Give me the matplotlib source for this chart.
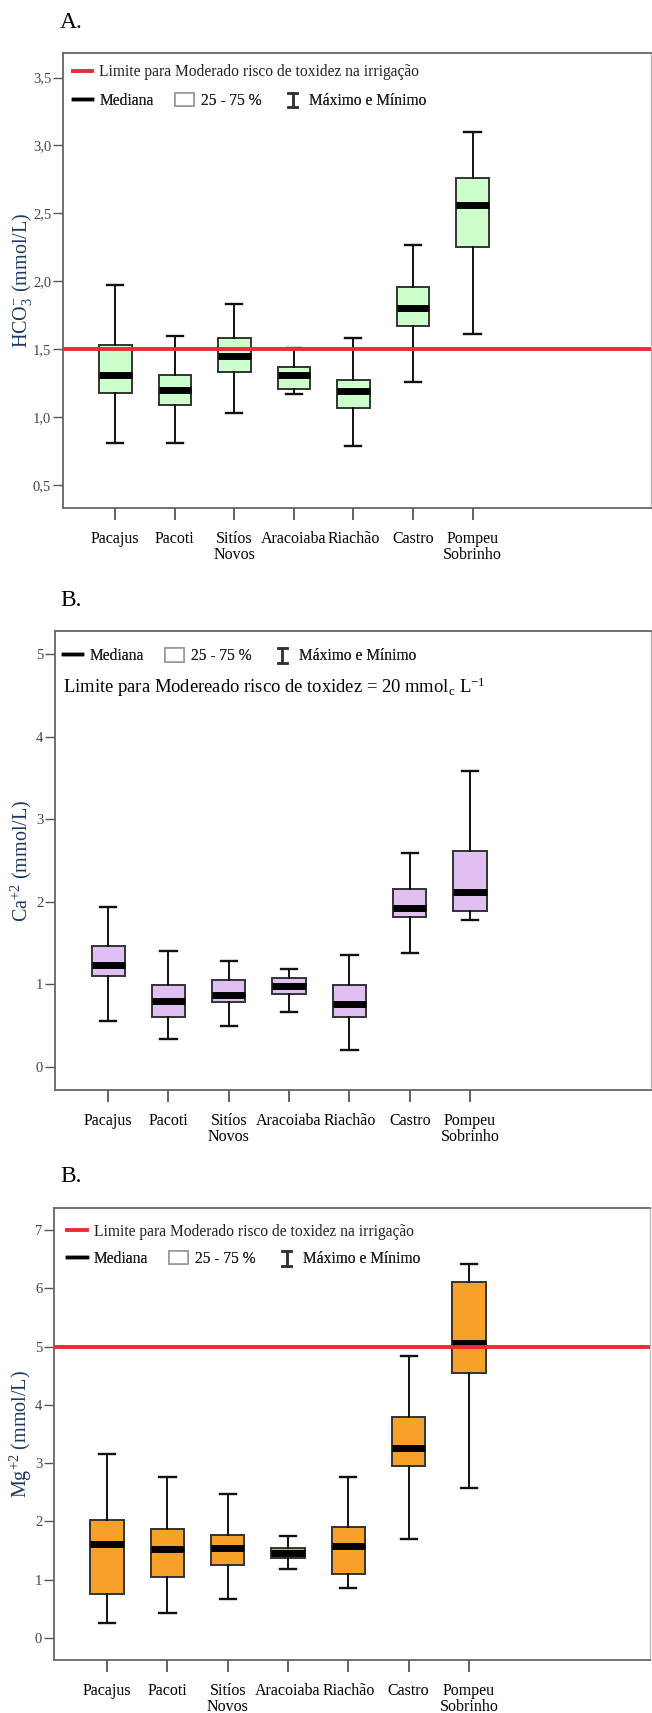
import matplotlib
matplotlib.use("Agg")
import matplotlib.pyplot as plt
from matplotlib.lines import Line2D
from matplotlib.patches import Patch
from matplotlib.legend_handler import HandlerBase
from matplotlib.ticker import FuncFormatter

plt.rcParams["font.family"] = ["Liberation Serif", "DejaVu Serif"]
plt.rcParams["mathtext.fontset"] = "custom"
plt.rcParams["mathtext.rm"] = "Liberation Serif"
plt.rcParams["mathtext.it"] = "Liberation Serif:italic"

sites = ["Pacajus", "Pacoti", "Sitíos\nNovos", "Aracoiaba", "Riachão", "Castro", "Pompeu\nSobrinho"]

# HCO3 (mmol/L)
hco3_min = [0.81, 0.81, 1.03, 1.17, 0.79, 1.26, 1.61]
hco3_q1 = [1.18, 1.09, 1.33, 1.21, 1.07, 1.67, 2.25]
hco3_med = [1.31, 1.20, 1.45, 1.31, 1.19, 1.80, 2.56]
hco3_q3 = [1.53, 1.31, 1.58, 1.37, 1.27, 1.96, 2.76]
hco3_max = [1.97, 1.60, 1.83, 1.51, 1.58, 2.27, 3.10]
hco3_limit = 1.5

# Ca+2 (mmol/L)
ca_min = [0.55, 0.34, 0.50, 0.67, 0.20, 1.38, 1.78]
ca_q1 = [1.10, 0.60, 0.79, 0.88, 0.60, 1.81, 1.89]
ca_med = [1.23, 0.80, 0.87, 0.98, 0.76, 1.93, 2.12]
ca_q3 = [1.46, 0.99, 1.05, 1.08, 0.99, 2.16, 2.61]
ca_max = [1.94, 1.40, 1.28, 1.19, 1.35, 2.59, 3.58]

# Mg+2 (mmol/L)
mg_min = [0.26, 0.43, 0.67, 1.19, 0.86, 1.70, 2.58]
mg_q1 = [0.76, 1.05, 1.25, 1.37, 1.10, 2.95, 4.55]
mg_med = [1.61, 1.53, 1.55, 1.46, 1.57, 3.26, 5.07]
mg_q3 = [2.03, 1.87, 1.77, 1.55, 1.91, 3.79, 6.11]
mg_max = [3.15, 2.76, 2.47, 1.75, 2.77, 4.84, 6.42]
mg_limit = 5.0

RED = "#EE2B36"
LABEL_BLUE = "#1F3864"


class HandlerIBeam(HandlerBase):
    """Legend handle drawn as an I-beam (max/min whisker symbol)."""

    def create_artists(self, legend, orig_handle, xdescent, ydescent, width, height, fontsize, trans):
        cx = width / 2 - xdescent
        y0 = -ydescent - 0.1 * height
        y1 = -ydescent + 1.0 * height
        w2 = 0.22 * width
        kw = dict(color="#333333", lw=1.8, transform=trans)
        return [
            Line2D([cx, cx], [y0, y1], **kw),
            Line2D([cx - w2, cx + w2], [y0, y0], **kw),
            Line2D([cx - w2, cx + w2], [y1, y1], **kw),
        ]


def draw_panel(ax, lo, q1, med, q3, hi, color, ylim, yticks, ylabel, label_x, limit=None, fmt=None):
    stats = [
        dict(whislo=a, q1=b, med=c, q3=d, whishi=e, fliers=[])
        for a, b, c, d, e in zip(lo, q1, med, q3, hi)
    ]
    pos = list(range(1, len(stats) + 1))
    ax.bxp(
        stats,
        positions=pos,
        widths=0.55,
        capwidths=0.27,
        patch_artist=True,
        showfliers=False,
        boxprops=dict(facecolor=color, edgecolor="#333333", linewidth=1.4),
        medianprops=dict(color="black", linewidth=5, solid_capstyle="butt"),
        whiskerprops=dict(color="#111111", linewidth=1.4),
        capprops=dict(color="#111111", linewidth=1.7),
    )
    if limit is not None:
        ax.axhline(limit, color=RED, linewidth=2.8, zorder=5)
    ax.set_xlim(0.12, 10.0)
    ax.set_ylim(*ylim)
    ax.set_yticks(yticks)
    if fmt:
        ax.yaxis.set_major_formatter(FuncFormatter(fmt))
    ax.set_xticks(pos)
    ax.set_xticklabels(sites, fontsize=11.5, linespacing=1.0)
    ax.tick_params(axis="x", length=8.5, width=1.3, color="#555555", pad=8)
    ax.tick_params(axis="y", length=7, width=1.0, color="#555555", pad=1.5,
                   labelsize=10.5, labelcolor="#444444")
    for side in ("left", "bottom", "top"):
        ax.spines[side].set_color("#666666")
        ax.spines[side].set_linewidth(1.3)
    ax.spines["right"].set_color("#BBBBBB")
    ax.spines["right"].set_linewidth(1.0)
    ax.set_ylabel(ylabel, fontsize=14.5, color=LABEL_BLUE)
    ax.yaxis.set_label_coords(label_x, 0.5)


def legend_rows(ax, x, y_row1, y_row2, with_limit=True):
    kw = dict(frameon=False, fontsize=11.2, handlelength=1.25, handletextpad=0.45,
              borderpad=0, borderaxespad=0, loc="upper left", labelcolor="#222222")
    if with_limit:
        leg1 = ax.legend(handles=[Line2D([], [], color=RED, lw=2.8)],
                         labels=["Limite para Moderado risco de toxidez na irrigação"],
                         bbox_to_anchor=(x, y_row1), **kw)
        ax.add_artist(leg1)
    handles = [
        Line2D([], [], color="black", lw=2.5),
        Patch(facecolor="white", edgecolor="#999999", linewidth=1.2),
        "ibeam",
    ]
    labels = ["Mediana", "25 - 75 %", "Máximo e Mínimo"]
    leg2 = ax.legend(handles=handles, labels=labels, ncol=3, columnspacing=1.35,
                     handleheight=0.95, handler_map={str: HandlerIBeam()},
                     bbox_to_anchor=(x, y_row2), **kw)
    ax.add_artist(leg2)


fig = plt.figure(figsize=(6.52, 17.13), dpi=100)

comma = lambda v, p: f"{v:.1f}".replace(".", ",")

ax1 = fig.add_axes([0.0966, 0.7034, 0.902, 0.2656])
draw_panel(ax1, hco3_min, hco3_q1, hco3_med, hco3_q3, hco3_max, "#CCFFCC",
           (0.33, 3.68), [0.5, 1.0, 1.5, 2.0, 2.5, 3.0, 3.5],
           r"HCO$_3^{\mathrm{-}}$ (mmol/L)", -0.049, limit=hco3_limit, fmt=comma)
legend_rows(ax1, 0.017, 0.975, 0.913)

ax2 = fig.add_axes([0.0844, 0.3637, 0.914, 0.268])
draw_panel(ax2, ca_min, ca_q1, ca_med, ca_q3, ca_max, "#E0C0F2",
           (-0.28, 5.28), [0, 1, 2, 3, 4, 5], r"Ca$^{+2}$ (mmol/L)", -0.035)
legend_rows(ax2, 0.013, None, 0.962, with_limit=False)
ax2.text(0.013, 0.878, r"Limite para Modereado risco de toxidez = 20 mmol$_{\mathrm{c}}$ L$^{-1}$",
         transform=ax2.transAxes, fontsize=13.4, va="center", ha="left", color="black")

ax3 = fig.add_axes([0.0828, 0.0309, 0.914, 0.2639])
draw_panel(ax3, mg_min, mg_q1, mg_med, mg_q3, mg_max, "#F7A12A",
           (-0.38, 7.38), [0, 1, 2, 3, 4, 5, 6, 7], r"Mg$^{+2}$ (mmol/L)", -0.034,
           limit=mg_limit)
legend_rows(ax3, 0.022, 0.965, 0.905)

for label, y in (("A.", 22), ("B.", 600), ("B.", 1177)):
    fig.text(60 / 652, 1 - y / 1713, label, fontsize=17, va="center", ha="left")

fig.savefig("out.png", dpi=100)
